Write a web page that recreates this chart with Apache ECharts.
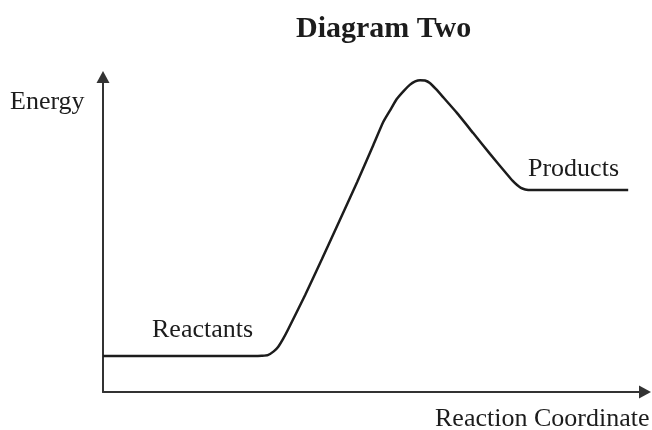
<!DOCTYPE html>
<html>
<head>
<meta charset="utf-8">
<script src="https://cdn.jsdelivr.net/npm/echarts@6/dist/echarts.min.js"></script>
<style>
  html, body { margin: 0; padding: 0; background: #fff; }
  #chart { width: 652px; height: 430px; }
</style>
</head>
<body>
<div id="chart"></div>
<script>
// reaction coordinate (0-100) and energy (0-100)
const coordinate = [0, 28.0, 29.3, 30.4, 31.5, 32.3, 33.2, 34.1, 37.3, 40.4, 43.7, 46.9, 49.8, 51.7, 53.0, 54.2, 55.5, 56.6, 57.6, 58.5,
                    59.4, 60.3, 61.4, 62.7, 65.3, 68.3, 71.4, 74.5, 75.6, 76.4, 77.1, 77.9, 79.0, 80.1, 96.9]
const energy     = [11.4, 11.4, 11.5, 11.7, 12.9, 14.3, 16.8, 19.7, 30.8, 42.2, 54.6, 66.7, 78.1, 85.7, 89.5, 93.0, 95.6, 97.5, 98.6, 99.0,
                    98.9, 98.1, 96.2, 93.7, 88.6, 82.2, 75.6, 69.2, 67.0, 65.7, 64.8, 64.3, 64.1, 64.1, 64.1]

const curve = coordinate.map((x, i) => [x, energy[i]])

const serif = "'Liberation Serif', 'DejaVu Serif', serif"
const ink = '#1c1c1c'

const axisStyle = {
  type: 'value',
  min: 0,
  max: 100,
  axisLine: {
    show: true,
    symbol: ['none', 'triangle'],
    symbolSize: [13, 12],
    lineStyle: { color: '#333', width: 2 }
  },
  axisTick: { show: false },
  axisLabel: { show: false },
  splitLine: { show: false }
}

const chart = echarts.init(document.getElementById('chart'))

const option = {
  animation: false,
  title: {
    text: 'Diagram Two',
    left: 291,
    top: 9,
    textStyle: {
      fontFamily: serif,
      fontSize: 30,
      fontWeight: 'bold',
      color: ink
    }
  },
  grid: {
    left: 103,
    right: 7,
    top: 77,
    bottom: 38
  },
  xAxis: axisStyle,
  yAxis: axisStyle,
  graphic: [
    { type: 'text', left: 10, top: 89, style: { text: 'Energy', font: '26px ' + serif, fill: ink } },
    { type: 'text', left: 152, top: 317, style: { text: 'Reactants', font: '26px ' + serif, fill: ink } },
    { type: 'text', left: 528, top: 156, style: { text: 'Products', font: '26px ' + serif, fill: ink } },
    { type: 'text', left: 435, top: 406, style: { text: 'Reaction Coordinate', font: '26px ' + serif, fill: ink } }
  ],
  series: [
    {
      type: 'line',
      data: curve,
      smooth: 0.15,
      showSymbol: false,
      lineStyle: { color: ink, width: 2.5 }
    }
  ]
}

chart.setOption(option)
</script>
</body>
</html>
